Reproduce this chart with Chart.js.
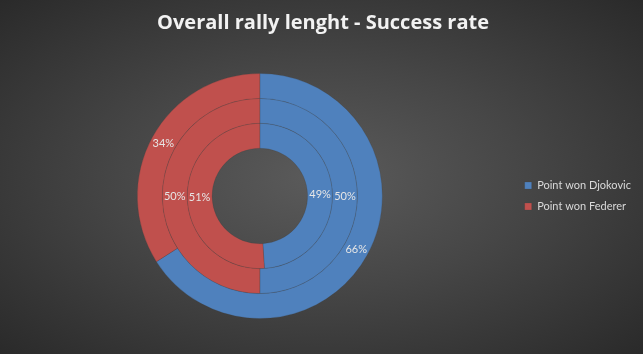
<!DOCTYPE html>
<html lang="en">
<head>
  <meta charset="UTF-8">
  <title>Overall rally lenght - Success rate</title>
  <script src="https://cdn.jsdelivr.net/npm/chart.js"></script>
  <style>
    html, body { margin: 0; padding: 0; }
    body {
      width: 643px; height: 354px; overflow: hidden;
      background: radial-gradient(ellipse at 50% 50%, #5b5b5b 0%, #464646 45%, #2a2a2a 100%);
    }
    #wrap { position: relative; width: 643px; height: 354px; }
  </style>
</head>
<body>
  <div id="wrap"><canvas id="rallyChart"></canvas></div>

  <script>
    // series labels and colours
    const players = ['Point won Djokovic', 'Point won Federer'];
    const colors = ['#4F81BD', '#C0504D'];

    // rings from outside to inside (percent)
    const outerRing = [66, 34];
    const middleRing = [50, 50];
    const innerRing = [49, 51];

    // draws the % labels at each arc's centre point
    const pctLabels = {
      id: 'pctLabels',
      afterDatasetsDraw(chart) {
        const ctx = chart.ctx;
        ctx.save();
        ctx.font = '11px Lato';
        ctx.fillStyle = '#e6e6e6';
        ctx.textAlign = 'center';
        ctx.textBaseline = 'middle';
        chart.data.datasets.forEach((ds, i) => {
          const meta = chart.getDatasetMeta(i);
          const total = ds.data.reduce((a, b) => a + b, 0);
          meta.data.forEach((arc, j) => {
            const p = arc.tooltipPosition();
            ctx.fillText(Math.round(ds.data[j] / total * 100) + '%', p.x, p.y);
          });
        });
        ctx.restore();
      }
    };

    const ctx = document.getElementById('rallyChart').getContext('2d');
    new Chart(ctx, {
      type: 'doughnut',
      data: {
        labels: players,
        datasets: [
          { data: outerRing, backgroundColor: colors },
          { data: middleRing, backgroundColor: colors },
          { data: innerRing, backgroundColor: colors }
        ]
      },
      options: {
        responsive: true,
        maintainAspectRatio: false,
        animation: false,
        cutout: '39%',
        borderWidth: 1,
        borderColor: 'rgba(60,60,60,0.2)',
        layout: { padding: { top: 0, bottom: 35, left: 5, right: 2 } },
        plugins: {
          title: {
            display: true,
            text: 'Overall rally lenght - Success rate',
            color: '#f2f2f2',
            font: { family: 'Open Sans', size: 20, weight: 'bold', lineHeight: 1.2 },
            padding: { top: 11, bottom: 38 }
          },
          legend: {
            position: 'right',
            fullSize: false,
            labels: {
              color: '#d9d9d9',
              boxWidth: 7,
              boxHeight: 7,
              padding: 10,
              font: { family: 'Lato', size: 11 }
            }
          },
          tooltip: { enabled: false }
        }
      },
      plugins: [pctLabels]
    });
  </script>
</body>
</html>
